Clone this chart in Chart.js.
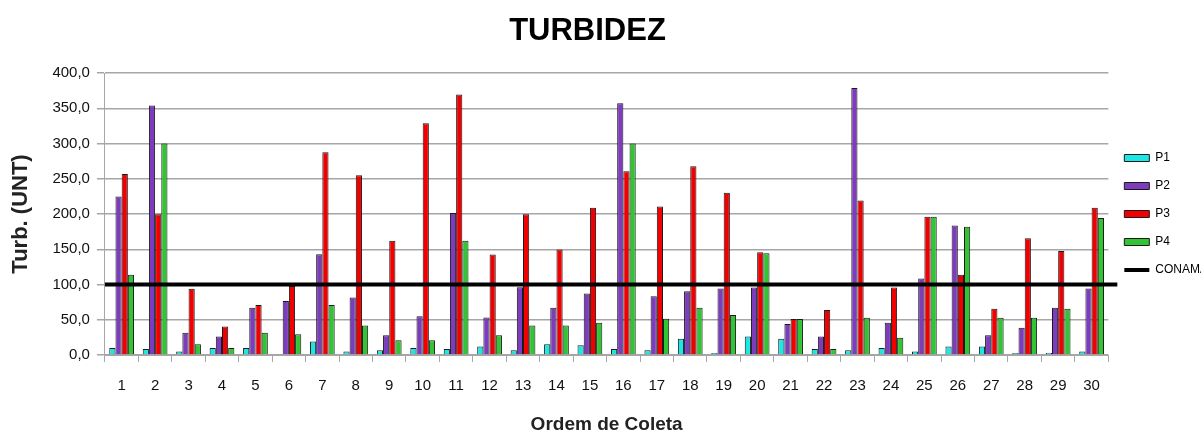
<!DOCTYPE html>
<html>
<head>
<meta charset="utf-8">
<script src="https://cdn.jsdelivr.net/npm/chart.js@4.4.0/dist/chart.umd.min.js"></script>
<style>
html, body { margin: 0; padding: 0; background: #fff; }
#wrap { position: relative; width: 1201px; height: 432px; }
#titulo {
	position: absolute; left: 0; top: 12px; width: 1175px; height: 36px;
	margin: 0; line-height: 36px; text-align: center;
	font: bold 31px 'Liberation Sans', Arial, sans-serif; color: #000;
}
</style>
</head>
<body>
<div id="wrap">
	<canvas id="turbChart"></canvas>
	<h1 id="titulo">TURBIDEZ</h1>
</div>
<script>
// ordem de coleta 1..30
var coletas = ['1','2','3','4','5','6','7','8','9','10','11','12','13','14','15',
               '16','17','18','19','20','21','22','23','24','25','26','27','28','29','30'];

var p1 = [10, 8.6, 4.8, 10, 10, 0, 19, 4.8, 6.7, 10, 8.6, 11.9, 6.7, 15.2, 13.8,
          8.6, 6.7, 22.9, 2.9, 26.2, 22.9, 8.6, 6.7, 10, 4.8, 11.9, 11.9, 2.9, 2.9, 4.8];
var p2 = [224.8, 353.8, 31.4, 26.2, 67.1, 76.7, 142.9, 81.4, 28.1, 54.8, 201.4, 53.3, 96.2, 67.1, 87.1,
          357, 83.3, 90.5, 94.3, 95.7, 43.8, 26.2, 378.6, 45.7, 108.6, 183.8, 28.1, 38.6, 67.1, 94.3];
var p3 = [256.7, 199.5, 93.8, 40.5, 71, 98, 287.6, 254.8, 161.9, 328.6, 369.5, 142.4, 199.5, 149.5, 209,
          260.5, 210.5, 267.6, 230, 145.7, 51, 63.8, 219, 95.7, 196.2, 113.8, 65.7, 165.7, 147.6, 209];
var p4 = [113.8, 300, 15.2, 10, 31.4, 29.5, 71, 41.9, 21, 21, 161.9, 28.1, 41.9, 41.9, 45.7,
          300, 51.4, 67.1, 56.7, 144.3, 51, 8.6, 52.9, 24.3, 196.2, 181.9, 52.9, 52.9, 65.7, 194.3];
var limiteConama = 100;

var yTicks = [0, 50, 100, 150, 200, 250, 300, 350, 400];

function barSet(label, data, color) {
	return {
		type: 'bar',
		label: label,
		data: data,
		backgroundColor: color,
		borderColor: '#1a1a1a',
		borderWidth: 1,
		pointStyle: 'rect',
		categoryPercentage: 0.74,
		barPercentage: 1.0
	};
}

// the CONAMA limit runs over the whole plot width, so draw it from the y scale
var conamaLine = {
	id: 'conamaLine',
	afterDatasetsDraw: function(chart) {
		var idx = chart.data.datasets.findIndex(function(d) { return d.label === 'CONAMA'; });
		if (idx < 0 || !chart.isDatasetVisible(idx)) return;
		var ds = chart.data.datasets[idx];
		var y = chart.scales.y.getPixelForValue(ds.data[0]);
		var area = chart.chartArea;
		var c = chart.ctx;
		c.save();
		c.strokeStyle = ds.borderColor;
		c.lineWidth = ds.borderWidth;
		c.beginPath();
		c.moveTo(area.left, y);
		c.lineTo(area.right + 9, y);
		c.stroke();
		c.restore();
	}
};

var ctx = document.getElementById('turbChart');

var turbChart = new Chart(ctx, {
	data: {
		labels: coletas,
		datasets: [
			barSet('P1', p1, '#1de6e6'),
			barSet('P2', p2, '#7d3cbd'),
			barSet('P3', p3, '#f20000'),
			barSet('P4', p4, '#33c433'),
			{
				type: 'line',
				label: 'CONAMA',
				data: coletas.map(function() { return limiteConama; }),
				borderColor: '#000',
				backgroundColor: '#000',
				borderWidth: 4,
				showLine: false,
				pointRadius: 0,
				pointStyle: 'line'
			}
		]
	},
	plugins: [conamaLine],
	options: {
		responsive: true,
		maintainAspectRatio: false,
		animation: false,
		layout: { padding: { left: 8, right: -17, top: 73, bottom: -2 } },
		plugins: {
			title: { display: false },
			legend: {
				position: 'right',
				fullSize: false,
				labels: {
					usePointStyle: true,
					pointStyleWidth: 25,
					boxWidth: 25,
					boxHeight: 7,
					padding: 16,
					color: '#000',
					font: { family: 'Liberation Sans', size: 12 }
				}
			},
			tooltip: { enabled: false }
		},
		scales: {
			x: {
				type: 'category',
				offset: true,
				grid: {
					display: true,
					drawOnChartArea: false,
					drawTicks: true,
					tickLength: 7,
					offset: true,
					color: '#a6a6a6'
				},
				border: { color: '#a6a6a6', width: 1 },
				ticks: {
					color: '#111',
					font: { family: 'Liberation Sans', size: 15 },
					padding: 15,
					maxRotation: 0,
					autoSkip: false
				},
				title: {
					display: true,
					text: 'Ordem de Coleta',
					color: '#222',
					font: { family: 'Liberation Sans', size: 19, weight: 'bold', lineHeight: 1 },
					padding: { top: 5, bottom: 0 }
				}
			},
			y: {
				min: 0,
				max: 400,
				afterBuildTicks: function(scale) {
					scale.ticks = yTicks.map(function(v) { return { value: v }; });
				},
				grid: {
					color: '#a6a6a6',
					lineWidth: 1.5,
					tickLength: 8
				},
				border: { color: '#a6a6a6', width: 1 },
				ticks: {
					color: '#111',
					font: { family: 'Liberation Sans', size: 15 },
					padding: 7,
					callback: function(v) { return v.toFixed(1).replace('.', ','); }
				},
				title: {
					display: true,
					text: 'Turb. (UNT)',
					color: '#222',
					font: { family: 'Liberation Sans', size: 22, weight: 'bold' },
					padding: { top: 0, bottom: 11 }
				}
			}
		}
	}
});
</script>
</body>
</html>
